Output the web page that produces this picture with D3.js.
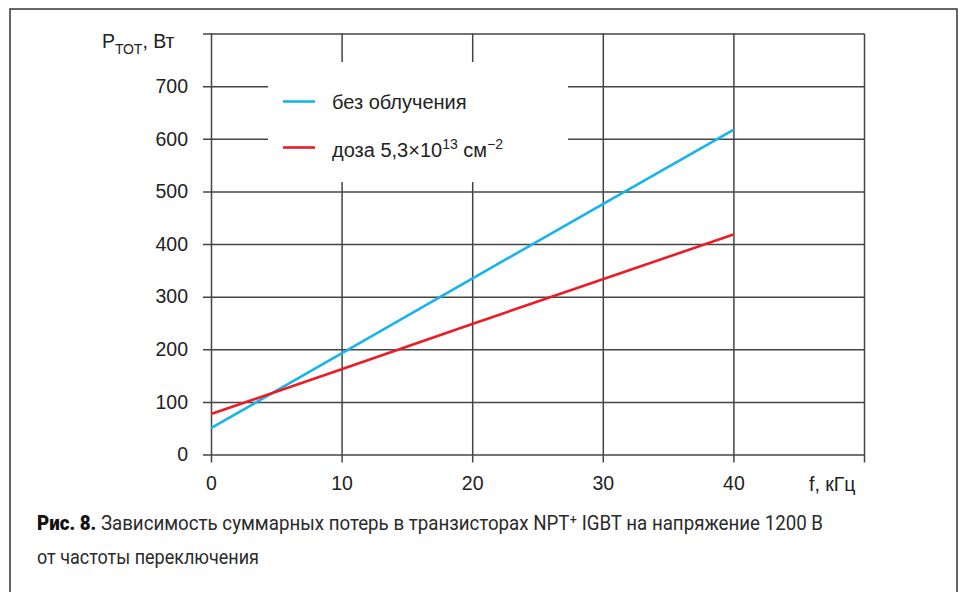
<!DOCTYPE html>
<html>
<head>
<meta charset="utf-8">
<script src="https://cdn.jsdelivr.net/npm/d3@7"></script>
<style>
  body { margin: 0; background: #fff; }
  svg { display: block; }
  .axis text { font-family: 'Liberation Sans', Arial, sans-serif; font-size: 19.5px; fill: #222; }
  .axis line { stroke: #444; stroke-width: 1.5; }
</style>
</head>
<body>
<svg id="chart" width="959" height="592"></svg>
<script>
// values
const frequency = [0, 10, 20, 30, 40];
const lossNoIrradiation = [50, 192, 334, 476, 617];
const lossDose = [77, 162, 248, 333, 418];
const xTicks = [0, 10, 20, 30, 40, 50];
const yTicks = [0, 100, 200, 300, 400, 500, 600, 700, 800];
const seriesNames = ['без облучения', 'доза 5,3×10'];
const seriesColors = ['#16b4ea', '#ec1c24'];
const captionLines = [
  'Зависимость суммарных потерь в транзисторах NPT⁺ IGBT на напряжение 1200 В',
  'от частоты переключения'
];

const svg = d3.select('#chart');
const font = "'Liberation Sans', Arial, sans-serif";
const captionFont = "'Roboto', 'Liberation Sans', sans-serif";

// outer frame (bottom edge runs off the page)
svg.append('rect')
  .attr('x', 10).attr('y', 9)
  .attr('width', 947).attr('height', 620)
  .attr('fill', 'none')
  .attr('stroke', '#333')
  .attr('stroke-width', 1.5);

const sx = d3.scaleLinear().domain([0, 50]).range([211, 864]);
const sy = d3.scaleLinear().domain([0, 800]).range([454.5, 33.5]);

const xAxis = d3.axisBottom(sx)
  .tickValues(xTicks)
  .tickSize(-(sy(0) - sy(800) + 8))
  .tickPadding(14)
  .tickFormat(d => d === 50 ? '' : d);

const yAxis = d3.axisLeft(sy)
  .tickValues(yTicks)
  .tickSize(-(sx(50) - sx(0) + 8))
  .tickPadding(15)
  .tickFormat(d => d === 800 ? '' : d);

svg.append('g')
  .attr('class', 'x axis')
  .attr('transform', `translate(0, ${sy(0) + 8})`)
  .call(xAxis)
  .call(g => g.select('.domain').remove());

svg.append('g')
  .attr('class', 'y axis')
  .attr('transform', `translate(${sx(0) - 8}, 0)`)
  .call(yAxis)
  .call(g => g.select('.domain').remove());

// legend sits on a white patch that cuts the grid
svg.append('rect')
  .attr('x', 268).attr('y', 62)
  .attr('width', 300).attr('height', 120)
  .attr('fill', '#fff');

const line = d3.line()
  .x((d, i) => sx(frequency[i]))
  .y(d => sy(d));

[lossNoIrradiation, lossDose].forEach((values, k) => {
  svg.append('path')
    .datum(values)
    .attr('d', line)
    .attr('fill', 'none')
    .attr('stroke', seriesColors[k])
    .attr('stroke-width', 2.6);
});

const legendY = [101.5, 147.5];
legendY.forEach((y, k) => {
  svg.append('line')
    .attr('x1', 283).attr('x2', 315)
    .attr('y1', y).attr('y2', y)
    .attr('stroke', seriesColors[k])
    .attr('stroke-width', 2.6);
});

svg.append('text')
  .attr('x', 332).attr('y', legendY[0] + 7)
  .attr('font-family', font).attr('font-size', 20).attr('fill', '#222')
  .text(seriesNames[0]);

const dose = svg.append('text')
  .attr('x', 332).attr('y', legendY[1] + 9)
  .attr('font-family', font).attr('font-size', 20).attr('fill', '#222');
dose.append('tspan').text(seriesNames[1]);
dose.append('tspan').attr('dy', -8).attr('font-size', 14).text('13');
dose.append('tspan').attr('dy', 8).text(' см');
dose.append('tspan').attr('dy', -8).attr('font-size', 14).text('−2');

// axis titles
const yTitle = svg.append('text')
  .attr('x', 102).attr('y', 47.5)
  .attr('font-family', font).attr('font-size', 19.5).attr('fill', '#222');
yTitle.append('tspan').text('P');
yTitle.append('tspan').attr('dy', 6).attr('font-size', 14).text('ТОТ');
yTitle.append('tspan').attr('dy', -6).text(', Вт');

svg.append('text')
  .attr('x', 809).attr('y', 491)
  .attr('font-family', font).attr('font-size', 19.5).attr('fill', '#222')
  .text('f, кГц');

// caption
const cap1 = svg.append('text')
  .attr('x', 37).attr('y', 530)
  .attr('font-family', captionFont).attr('font-size', 20).attr('fill', '#2a2a2a')
  .attr('textLength', 786).attr('lengthAdjust', 'spacingAndGlyphs');
cap1.append('tspan').attr('font-weight', 900).attr('fill', '#111').text('Рис. 8. ');
cap1.append('tspan').text(captionLines[0]);

svg.append('text')
  .attr('x', 37).attr('y', 564)
  .attr('font-family', captionFont).attr('font-size', 20).attr('fill', '#2a2a2a')
  .attr('textLength', 222).attr('lengthAdjust', 'spacingAndGlyphs')
  .text(captionLines[1]);
</script>
</body>
</html>
